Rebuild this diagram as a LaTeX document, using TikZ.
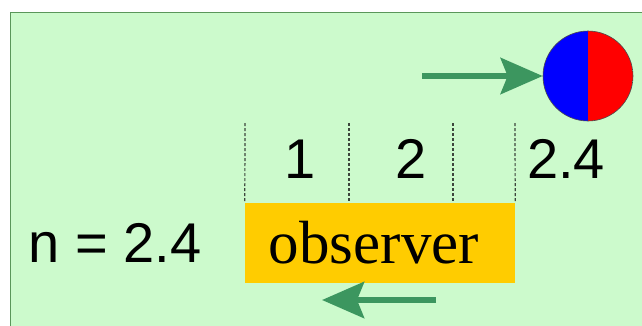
\documentclass[tikz,border=0pt]{standalone}
\usepackage{fontspec}
\setmainfont{Liberation Serif}
\newfontfamily\arialfont{Liberation Sans}
\usetikzlibrary{arrows.meta}
\definecolor{bggreen}{RGB}{204,250,204}
\definecolor{bordergreen}{RGB}{90,150,90}
\definecolor{arrowgreen}{RGB}{60,150,95}
\definecolor{boxyellow}{RGB}{255,204,0}
\definecolor{dashgray}{RGB}{60,70,60}
\tikzset{
  numlabel/.style={font=\arialfont\fontsize{56}{62}\selectfont, anchor=base, inner sep=0pt},
  fatarrow/.style={draw=arrowgreen, line width=6.5pt, -{Stealth[length=42pt,width=36pt,inset=7pt]}},
  tick/.style={draw=dashgray, line width=1.2pt, dash pattern=on 3pt off 2pt},
}
\begin{document}
\begin{tikzpicture}[x=1pt,y=-1pt]
\useasboundingbox (0,0) rectangle (642,325);
\fill[bggreen] (10,12) rectangle (660,340);
\draw[bordergreen, line width=1pt] (10,340) -- (10,12) -- (660,12);
% ball
\node (ball) [circle, minimum size=90pt, inner sep=0pt, draw=black!70, line width=0.6pt,
  path picture={
    \fill[blue] (path picture bounding box.south west) rectangle (path picture bounding box.north);
    \fill[red] (path picture bounding box.south) rectangle (path picture bounding box.north east);
  }] at (588,76) {};
\coordinate (a1start) at (422,76);
\draw[fatarrow] (a1start) -- (ball.west);
% observer box
\node (obs) [rectangle, fill=boxyellow, minimum width=270pt, minimum height=80pt, inner sep=0pt,
  font=\fontsize{61}{66}\selectfont] at (380,243) {\hspace{-12pt}observer};
% dashed ticks
\coordinate (t1) at (245,123);
\coordinate (t2) at (349,123);
\coordinate (t3) at (453,123);
\coordinate (t4) at (515,123);
\draw[tick] (t1) -- (obs.north west);
\draw[tick] (t2) -- (t2 |- obs.north);
\draw[tick] (t3) -- (t3 |- obs.north);
\draw[tick] (t4) -- (obs.north east);
% labels
\node (l1) [numlabel] at (300,178) {1};
\node (l2) [numlabel] at (411,178) {2};
\node (l3) [numlabel] at (566,178) {2.4};
\node (n) [numlabel] at (115,262) {n = 2.4};
% bottom arrow
\coordinate (a2start) at (436,300);
\coordinate (a2end) at (322,300);
\draw[fatarrow] (a2start) -- (a2end);
\end{tikzpicture}
\end{document}
